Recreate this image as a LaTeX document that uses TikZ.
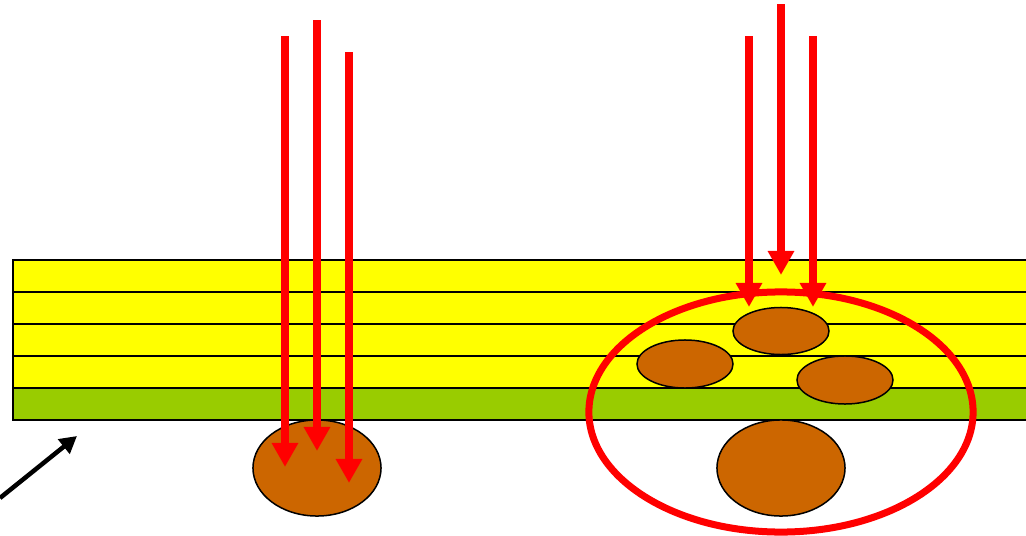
\documentclass[tikz,border=0pt]{standalone}
\usepackage{tikz}
\usetikzlibrary{arrows.meta,shapes.geometric}

\definecolor{layeryellow}{HTML}{FFFF00}
\definecolor{layergreen}{HTML}{99CC00}
\definecolor{clump}{HTML}{CC6600}

\begin{document}
\begin{tikzpicture}[
    x=0.01cm, y=-0.01cm,
    film/.style={fill=layeryellow, draw=black, line width=0.02cm},
    base/.style={fill=layergreen, draw=black, line width=0.02cm},
    blob/.style={ellipse, draw=black, line width=0.015cm, fill=clump, inner sep=0pt},
    ring/.style={ellipse, draw=red, line width=0.07cm, inner sep=0pt},
    ray/.style={-{Triangle[width=0.25cm, length=0.24cm]}, red, line width=0.07cm},
    pointer/.style={-{Triangle[width=0.18cm, length=0.17cm]}, black, line width=0.045cm}
]
\useasboundingbox (0,0) rectangle (1026,536);

% stacked layers
\foreach \t in {260,292,324,356}
    \draw[film] (1027,\t) -- (13,\t) -- (13,\t+32) -- (1027,\t+32);
\draw[base] (1027,388) -- (13,388) -- (13,420) -- (1027,420);

% clumps
\node[blob, minimum width=1.28cm, minimum height=0.96cm] (lump) at (317,468) {};
\node[blob, minimum width=0.96cm, minimum height=0.47cm] (top) at (781,331) {};
\node[blob, minimum width=0.96cm, minimum height=0.48cm] (left) at (685,364) {};
\node[blob, minimum width=0.96cm, minimum height=0.48cm] (right) at (845,380) {};
\node[blob, minimum width=1.28cm, minimum height=0.96cm] (core) at (781,468) {};

\node[ring, minimum width=3.84cm, minimum height=2.40cm] (zone) at (781,412) {};

% incoming rays
\foreach \x/\top/\tip [count=\i] in {285/36/467, 317/20/451, 349/52/483}{
    \coordinate (a\i) at (\x,\top);
    \coordinate (b\i) at (\x,\tip);
    \draw[ray] (a\i) -- (b\i);
}
\foreach \x/\top/\tip [count=\i] in {749/36/307, 781/4/275, 813/36/307}{
    \coordinate (c\i) at (\x,\top);
    \coordinate (d\i) at (\x,\tip);
    \draw[ray] (c\i) -- (d\i);
}

\coordinate (p0) at (0,498);
\coordinate (p1) at (77,436);
\draw[pointer] (p0) -- (p1);
\end{tikzpicture}
\end{document}
